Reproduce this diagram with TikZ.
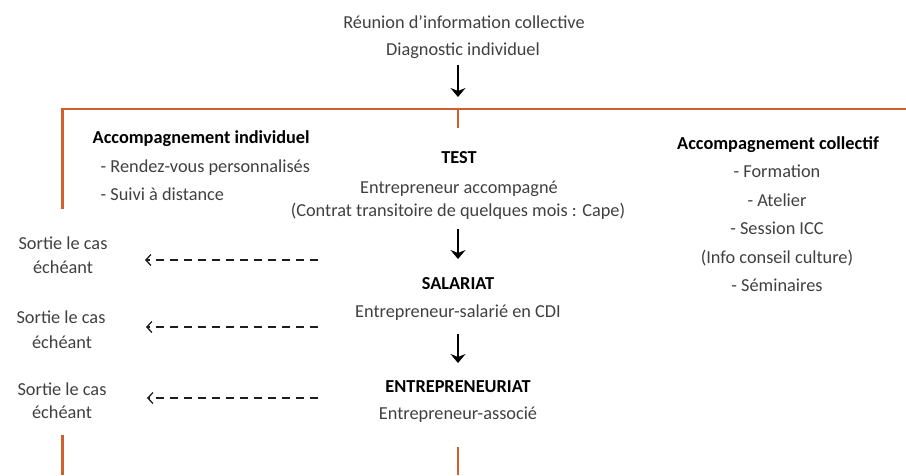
\documentclass[tikz,border=0pt]{standalone}
\usepackage{fontspec}
\setmainfont{Carlito}
\usetikzlibrary{arrows.meta}
\definecolor{txt}{RGB}{64,64,64}
\definecolor{brk}{RGB}{209,95,45}
\definecolor{dsh}{RGB}{30,30,30}
\begin{document}
\begin{tikzpicture}[x=1pt,y=-1pt,
  lbl/.style={font=\fontsize{18.3}{22}\selectfont, text=txt, inner sep=0pt, anchor=base},
  lbll/.style={lbl, anchor=base west},
  head/.style={lbl, font=\fontsize{18.3}{22}\selectfont\bfseries, text=black},
  headl/.style={head, anchor=base west},
  brkline/.style={draw=brk, line width=2.2pt},
  downarrow/.style={draw=black, line width=1.1pt, -{Stealth[length=9pt,width=15pt,inset=3pt]}},
  exitarrow/.style={draw=dsh, line width=2pt, dash pattern=on 8pt off 6pt, -{Straight Barb[length=5pt,width=11pt,line width=1.3pt]}}
]
\useasboundingbox (0,0) rectangle (906,475);

% top texts
\node[lbl] (reunion) at (464,28) {Réunion d’information collective};
\node[lbl] (diag) at (463,55) {Diagnostic individuel};

% bracket lines
\coordinate (tl) at (62.5,109);
\coordinate (tr) at (906,109);
\coordinate (tlb) at (62.5,209);
\coordinate (tc) at (458,109);
\coordinate (tcb) at (458,128);
\draw[brkline] (tlb) -- (tl) -- (tr);
\draw[brkline] (tc) -- (tcb);
\coordinate (bl) at (62.5,435);
\coordinate (blb) at (62.5,475);
\coordinate (bc) at (458,447);
\coordinate (bcb) at (458,475);
\draw[brkline] (bl) -- (blb);
\draw[brkline] (bc) -- (bcb);

% left box
\node[headl] (indiv) at (92.5,143) {Accompagnement individuel};
\node[lbll] (rdv) at (100.5,172) {- Rendez-vous personnalisés};
\node[lbll] (suivi) at (100.5,200) {- Suivi à distance};

% center
\node[head] (test) at (459,163) {TEST};
\node[lbl] (accomp) at (459,193) {Entrepreneur accompagné};
\node[lbl] (contrat) at (458,216) {(Contrat transitoire de quelques mois : Cape)};
\node[head] (salariat) at (458,289) {SALARIAT};
\node[lbl] (salarie) at (458,317) {Entrepreneur-salarié en CDI};
\node[head] (entrep) at (458,392) {ENTREPRENEURIAT};
\node[lbl] (associe) at (458,419) {Entrepreneur-associé};

% right
\node[head] (coll) at (778,149) {Accompagnement collectif};
\node[lbl] (form) at (777,177) {- Formation};
\node[lbl] (atel) at (777,206) {- Atelier};
\node[lbl] (icc) at (777,234) {- Session ICC};
\node[lbl] (info) at (777,263) {(Info conseil culture)};
\node[lbl] (semi) at (777,291) {- Séminaires};

% exits
\node[lbl] (s1a) at (63,249) {Sortie le cas};
\node[lbl] (s1b) at (63,273) {échéant};
\node[lbl] (s2a) at (61,323) {Sortie le cas};
\node[lbl] (s2b) at (62,348) {échéant};
\node[lbl] (s3a) at (62,395) {Sortie le cas};
\node[lbl] (s3b) at (62,418) {échéant};

% down arrows
\coordinate (d1s) at (458,65);
\coordinate (d1e) at (458,97);
\coordinate (d2s) at (458,229);
\coordinate (d2e) at (458,259);
\coordinate (d3s) at (458,334);
\coordinate (d3e) at (458,363);
\draw[downarrow] (d1s) -- (d1e);
\draw[downarrow] (d2s) -- (d2e);
\draw[downarrow] (d3s) -- (d3e);

% exit arrows
\coordinate (e1s) at (318,260);
\coordinate (e1e) at (145,260);
\coordinate (e2s) at (318,327);
\coordinate (e2e) at (146,327);
\coordinate (e3s) at (318,398);
\coordinate (e3e) at (147,398);
\draw[exitarrow] (e1s) -- (e1e);
\draw[exitarrow] (e2s) -- (e2e);
\draw[exitarrow] (e3s) -- (e3e);
\end{tikzpicture}
\end{document}
